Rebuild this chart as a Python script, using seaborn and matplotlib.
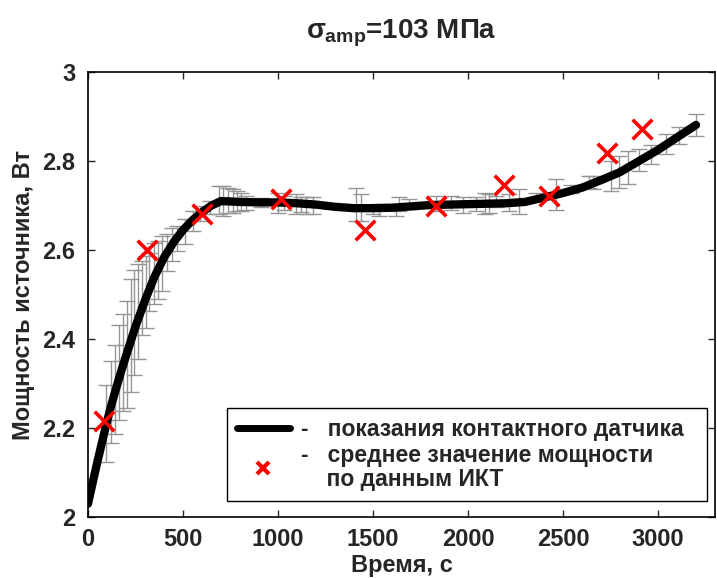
import matplotlib
matplotlib.use("Agg")
import matplotlib.pyplot as plt
from matplotlib.lines import Line2D
import pandas as pd
import seaborn as sns

# contact sensor curve
sensor_t = [0, 25, 50, 75, 96, 125, 150, 175, 200, 250, 300, 350, 400, 450, 500, 550, 600,
            650, 700, 750, 800, 900, 1000, 1100, 1200, 1300, 1400, 1500, 1600, 1700, 1800,
            1900, 2000, 2100, 2200, 2300, 2400, 2500, 2600, 2700, 2800, 2900, 3000, 3100, 3200]
sensor_p = [2.03, 2.078, 2.125, 2.170, 2.208, 2.255, 2.292, 2.328, 2.362, 2.428, 2.487,
            2.54, 2.583, 2.617, 2.645, 2.667, 2.685, 2.700, 2.710, 2.709, 2.708, 2.707,
            2.707, 2.705, 2.702, 2.697, 2.694, 2.694, 2.695, 2.698, 2.701, 2.702, 2.703,
            2.704, 2.705, 2.708, 2.718, 2.728, 2.740, 2.757, 2.775, 2.800, 2.825, 2.853, 2.881]

# spread of the sensor readings
err_t = [95, 121, 142, 163, 184, 204, 224, 243, 264, 285, 303, 322, 346, 368, 389, 417,
         442, 470, 508, 552, 587, 640, 691, 712, 735, 761, 782, 805, 831, 910, 998, 1033,
         1094, 1121, 1147, 1182, 1410, 1436, 1498, 1533, 1621, 1639, 1692, 1832, 1911,
         1973, 2043, 2087, 2113, 2148, 2218, 2271, 2359, 2464, 2543, 2639, 2656, 2752,
         2796, 2840, 2902, 2963, 3042, 3112, 3200]
err_p = [2.21, 2.258, 2.286, 2.324, 2.347, 2.365, 2.407, 2.437, 2.461, 2.493, 2.506, 2.528,
         2.547, 2.555, 2.57, 2.594, 2.612, 2.626, 2.641, 2.665, 2.682, 2.695, 2.712, 2.71,
         2.712, 2.71, 2.71, 2.708, 2.706, 2.707, 2.706, 2.706, 2.703, 2.703, 2.700, 2.700,
         2.703, 2.695, 2.691, 2.690, 2.690, 2.703, 2.703, 2.705, 2.706, 2.701, 2.703,
         2.704, 2.704, 2.709, 2.706, 2.709, 2.720, 2.725, 2.737, 2.753, 2.751, 2.767,
         2.776, 2.785, 2.802, 2.815, 2.838, 2.857, 2.881]
err_hw = [0.087, 0.092, 0.10, 0.107, 0.109, 0.12, 0.127, 0.118, 0.107, 0.083, 0.081, 0.066,
          0.069, 0.066, 0.062, 0.041, 0.037, 0.028, 0.028, 0.022, 0.017, 0.015, 0.032, 0.033,
          0.028, 0.026, 0.022, 0.020, 0.016, 0.010, 0.022, 0.016, 0.022, 0.017, 0.020, 0.018,
          0.037, 0.030, 0.011, 0.014, 0.013, 0.015, 0.011, 0.017, 0.015, 0.017, 0.015,
          0.024, 0.021, 0.013, 0.019, 0.029, 0.009, 0.034, 0.008, 0.013, 0.015, 0.034,
          0.036, 0.037, 0.024, 0.022, 0.022, 0.019, 0.024]

# ИКТ mean power
ikt_t = [86, 313, 602, 1015, 1459, 1831, 2191, 2427, 2734, 2915]
ikt_p = [2.216, 2.599, 2.682, 2.714, 2.644, 2.700, 2.745, 2.721, 2.819, 2.871]

sns.set_style("ticks")
plt.rcParams["font.family"] = ["Liberation Sans", "DejaVu Sans"]
plt.rcParams["font.weight"] = "bold"
plt.rcParams["mathtext.fontset"] = "custom"
plt.rcParams["mathtext.rm"] = "Liberation Sans"
plt.rcParams["mathtext.bf"] = "Liberation Sans:bold"
plt.rcParams["mathtext.it"] = "Liberation Sans"

fig = plt.figure(figsize=(7.17, 5.78), dpi=100)
ax = fig.add_axes([88 / 717, 1 - 517 / 578, 627 / 717, 445 / 578])

ax.errorbar(err_t, err_p, yerr=err_hw, fmt="none", ecolor="#959595", elinewidth=1.0,
            capsize=6, capthick=1.0, zorder=1)

sensor = pd.DataFrame({"t": sensor_t, "p": sensor_p})
sns.lineplot(data=sensor, x="t", y="p", color="black", linewidth=6, ax=ax, zorder=2,
             solid_capstyle="round")

ikt = pd.DataFrame({"t": ikt_t, "p": ikt_p})
sns.scatterplot(data=ikt, x="t", y="p", marker="x", color="red", s=200, linewidth=2.6,
                ax=ax, zorder=3)

ax.set_xlim(0, 3300)
ax.set_ylim(2, 3)
ax.set_xticks([0, 500, 1000, 1500, 2000, 2500, 3000])
ax.set_yticks([2, 2.2, 2.4, 2.6, 2.8, 3])
ax.set_yticklabels(["2", "2.2", "2.4", "2.6", "2.8", "3"])
ax.tick_params(direction="in", length=5, width=1, top=True, right=True, labelsize=17)
ax.tick_params(axis="x", pad=8)
ax.tick_params(axis="y", pad=9)
for s in ax.spines.values():
    s.set_linewidth(1.2)
    s.set_color("black")

ax.set_xlabel("Время, с", fontsize=17, fontweight="bold", labelpad=2)
ax.set_ylabel("Мощность источника, Вт", fontsize=17, fontweight="bold", labelpad=5)
ax.set_title(r"$\sigma_{\mathbf{amp}}$=103 МПа", fontsize=20, fontweight="bold", pad=24)

handles = [
    Line2D([], [], color="black", linewidth=5),
    Line2D([], [], color="red", marker="x", linestyle="none", markersize=9, markeredgewidth=3),
]
labels = ["-   показания контактного датчика  ",
          "-   среднее значение мощности\n    по данным ИКТ"]
leg = ax.legend(handles, labels, loc="lower right", bbox_to_anchor=(0.987, 0.036),
                borderaxespad=0, fancybox=False, framealpha=1, edgecolor="black",
                handlelength=2.3, handletextpad=0.5, labelspacing=0.1, borderpad=0.45,
                prop={"weight": "bold", "size": 16.5})
leg.get_frame().set_linewidth(1.0)
for txt in leg.get_texts():
    txt.set_linespacing(1.05)

fig.savefig("out.png", dpi=100)
